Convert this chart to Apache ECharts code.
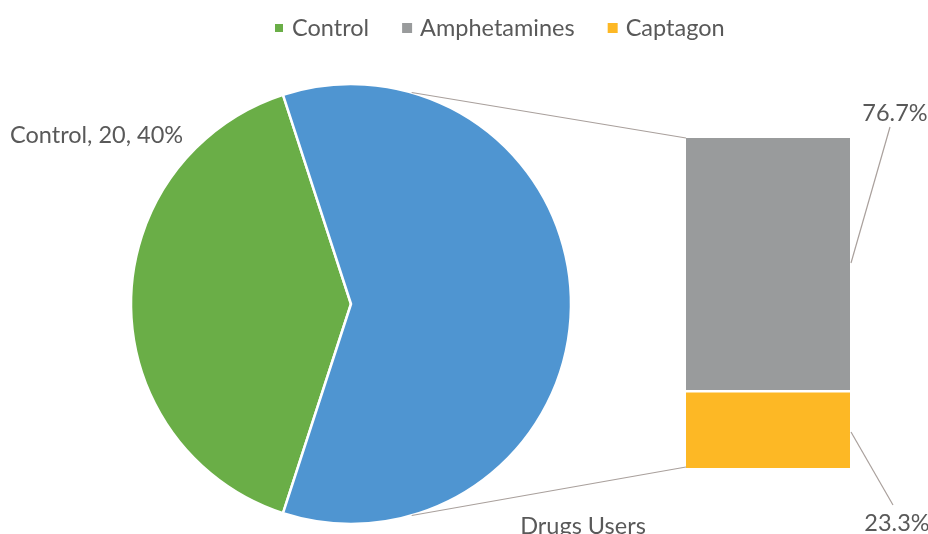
<!DOCTYPE html>
<html>
<head>
<meta charset="utf-8">
<script src="https://cdn.jsdelivr.net/npm/echarts@6/dist/echarts.min.js"></script>
<style>
  html, body { margin: 0; padding: 0; background: #fff; }
  #chart { width: 928px; height: 534px; }
</style>
</head>
<body>
<div id="chart"></div>
<script>
// Study groups (pie) and breakdown of drug users by substance (stacked bar)
const groupNames = ['Control', 'Drugs Users'];
const groupCounts = [20, 30];
const drugNames = ['Amphetamines', 'Captagon'];
const drugCounts = [23, 7];
const legendItems = ['Control', 'Amphetamines', 'Captagon'];

const COLORS = {
  'Control': '#6aae47',
  'Drugs Users': '#4f95d1',
  'Amphetamines': '#999b9c',
  'Captagon': '#fdb825'
};
const TEXT = '#595959';
const FONT = 'Lato, "Open Sans", sans-serif';
const FS = 23.5;

const drugTotal = drugCounts.reduce((a, b) => a + b, 0);

// pie geometry
const PIE_CX = 351, PIE_CY = 304, PIE_R = 220;
// bar box
const BAR_LEFT = 686, BAR_W = 164, BAR_TOP = 138, BAR_H = 330;

function piePoint(deg) {
  const a = deg * Math.PI / 180;
  return [PIE_CX + PIE_R * Math.cos(a), PIE_CY - PIE_R * Math.sin(a)];
}
const topPt = piePoint(74);
const botPt = piePoint(-74);

const chart = echarts.init(document.getElementById('chart'));

const labelPlaces = {
  'Control': { x: 10, y: 135, align: 'left' },
  'Drugs Users': { x: 583, y: 526, align: 'center' }
};
const barLabelPlaces = [
  { x: 897, y: 523 },   // Captagon
  { x: 895, y: 113 }    // Amphetamines
];

chart.setOption({
  animation: false,
  legend: {
    data: legendItems,
    top: 11,
    left: 268,
    itemWidth: 10,
    itemHeight: 10,
    itemGap: 33,
    icon: 'rect',
    textStyle: { color: TEXT, fontSize: FS, fontFamily: FONT, padding: [0, 0, 0, 3] }
  },
  grid: { left: BAR_LEFT, top: BAR_TOP, width: BAR_W, height: BAR_H },
  xAxis: { type: 'category', data: ['Drugs Users'], show: false },
  yAxis: { type: 'value', min: 0, max: drugTotal, show: false },
  series: [
    {
      type: 'pie',
      name: 'Groups',
      center: [PIE_CX, PIE_CY],
      radius: PIE_R,
      startAngle: 252,
      clockwise: true,
      data: groupNames.map((n, i) => ({ name: n, value: groupCounts[i], itemStyle: { color: COLORS[n] } })),
      itemStyle: { borderColor: '#fff', borderWidth: 2.5 },
      label: {
        show: true,
        color: TEXT,
        fontSize: FS,
        fontFamily: FONT,
        overflow: 'none',
        formatter: p => p.name === 'Control' ? `${p.name}, ${p.value}, ${Math.round(p.percent)}%` : p.name
      },
      labelLine: { show: false },
      labelLayout: p => {
        const name = groupNames[p.dataIndex];
        const pl = labelPlaces[name];
        return { x: pl.x, y: pl.y, align: pl.align, verticalAlign: 'middle' };
      },
      emphasis: { disabled: true }
    },
    ...[1, 0].map((k, order) => ({
      type: 'bar',
      name: drugNames[k],
      stack: 'drugs',
      barWidth: '100%',
      data: [drugCounts[k]],
      itemStyle: { color: COLORS[drugNames[k]] },
      label: {
        show: true,
        color: TEXT,
        fontSize: FS,
        fontFamily: FONT,
        formatter: p => (p.value / drugTotal * 100).toFixed(1) + '%'
      },
      labelLayout: () => ({ x: barLabelPlaces[order].x, y: barLabelPlaces[order].y, align: 'center', verticalAlign: 'middle' }),
      emphasis: { disabled: true }
    }))
  ],
  graphic: [
    // gap between the two bar segments
    { type: 'rect', z: 100, shape: { x: BAR_LEFT, y: BAR_TOP + BAR_H * (drugCounts[0] / drugTotal) - 1, width: BAR_W, height: 2.5 }, style: { fill: '#fff' } },
    // connectors from pie to bar
    { type: 'line', z: 100, shape: { x1: topPt[0], y1: topPt[1], x2: BAR_LEFT, y2: BAR_TOP }, style: { stroke: '#a9a09c', lineWidth: 1.2 } },
    { type: 'line', z: 100, shape: { x1: botPt[0], y1: botPt[1], x2: BAR_LEFT, y2: BAR_TOP + BAR_H - 1 }, style: { stroke: '#a9a09c', lineWidth: 1.2 } },
    // label guide lines
    { type: 'line', z: 100, shape: { x1: 851, y1: 263, x2: 890, y2: 127 }, style: { stroke: '#a9a09c', lineWidth: 1.2 } },
    { type: 'line', z: 100, shape: { x1: 851, y1: 432, x2: 893, y2: 505 }, style: { stroke: '#a9a09c', lineWidth: 1.2 } }
  ]
});
</script>
</body>
</html>
